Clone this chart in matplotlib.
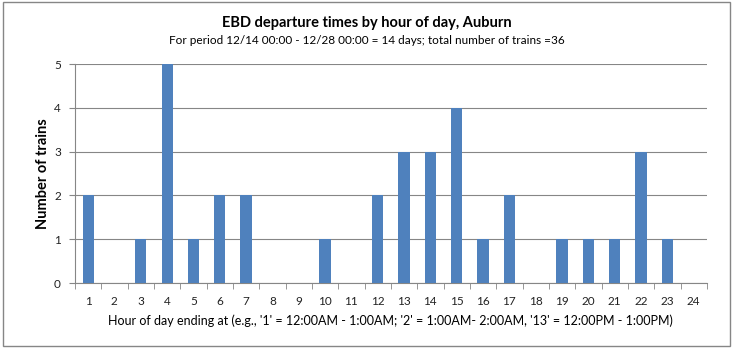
import numpy as np
import matplotlib.pyplot as plt
from matplotlib.patches import Rectangle

# hour of day ending at 1..24, number of departures
hours = list(range(1, 25))
trains = [2, 0, 1, 5, 1, 2, 2, 0, 0, 1, 0, 2, 3, 3, 4, 1, 2, 0, 1, 1, 1, 3, 1, 0]

title = "EBD departure times by hour of day, Auburn"
subtitle = "For period 12/14 00:00 - 12/28 00:00 = 14 days; total number of trains =36"
xlabel = "Hour of day ending at (e.g., '1' = 12:00AM - 1:00AM; '2' = 1:00AM- 2:00AM, '13' = 12:00PM - 1:00PM)"
ylabel = "Number of trains"

plt.rcParams['font.family'] = ['Lato', 'DejaVu Sans']

fig = plt.figure(figsize=(7.34, 3.52), dpi=100)
ax = fig.add_axes([0.102, 0.196, 0.861, 0.622])

ax.bar(hours, trains, width=0.42, color='#4F81BD', zorder=3)

ax.set_xlim(0.5, 24.5)
ax.set_ylim(0, 5)
ax.set_xticks(hours)
ax.set_xticklabels([str(h) for h in hours])
ax.set_xticks(np.arange(0.5, 25, 1), minor=True)
ax.tick_params(axis='x', which='major', length=0, pad=9, labelsize=8.5, labelcolor='#222222')
ax.tick_params(axis='x', which='minor', length=4, color='#868686', direction='out')
ax.set_yticks(range(0, 6))
ax.tick_params(axis='y', length=4, color='#868686', labelsize=8.5, labelcolor='#222222', pad=6)

ax.grid(axis='y', color='#868686', lw=0.8, zorder=0)
for s in ['top', 'right']:
    ax.spines[s].set_visible(False)
for s in ['left', 'bottom']:
    ax.spines[s].set_color('#868686')

ax.set_xlabel(xlabel, fontsize=9, labelpad=6)
ax.set_ylabel(ylabel, fontsize=10.5, fontweight='bold', labelpad=3)

fig.text(0.5, 0.935, title, ha='center', va='center', fontsize=10.5, fontweight='bold')
fig.text(0.5, 0.885, subtitle, ha='center', va='center', fontsize=8.5)

fig.patches.append(Rectangle((0.004, 0.016), 0.99, 0.978, transform=fig.transFigure,
                             fill=False, ec='#868686', lw=1))

fig.savefig('out.png', dpi=100)
